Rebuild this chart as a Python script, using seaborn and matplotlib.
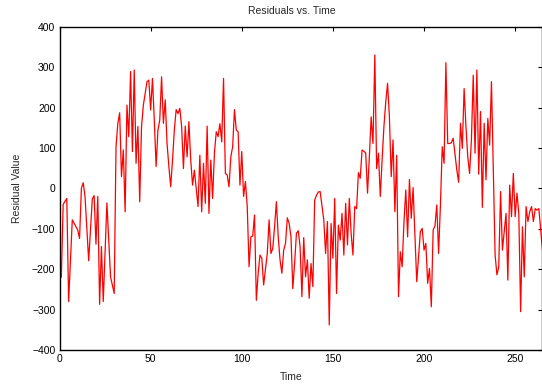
import numpy as np
import pandas as pd
import matplotlib
matplotlib.use('Agg')
import matplotlib.pyplot as plt
import seaborn as sns

# residuals (time index, residual value)
time = [1, 2, 3, 4, 5, 7, 9, 10, 11, 12, 13, 14, 16, 18, 19, 20, 21, 22, 23, 24,
        26, 28, 30, 31, 32, 33, 34, 35, 36, 37, 38, 39, 40, 41, 42, 43, 44, 45, 46, 48,
        49, 50, 51, 52, 53, 54, 55, 56, 57, 58, 59, 60, 61, 62, 63, 64, 65, 66, 67, 68,
        69, 70, 71, 72, 73, 74, 76, 77, 78, 79, 80, 81, 82, 83, 84, 85, 86, 87, 88, 89,
        90, 91, 92, 93, 94, 95, 96, 97, 98, 99, 100, 101, 102, 103, 104, 105, 106, 107, 108, 109,
        110, 111, 112, 114, 115, 116, 117, 118, 119, 120, 121, 122, 123, 124, 125, 126, 127, 128, 129, 130,
        131, 132, 133, 134, 135, 136, 137, 138, 139, 140, 141, 142, 143, 145, 146, 147, 148, 149, 150, 151,
        152, 153, 154, 155, 156, 157, 158, 159, 160, 161, 162, 163, 164, 165, 166, 168, 169, 170, 171, 172,
        173, 174, 175, 176, 177, 178, 179, 180, 181, 182, 183, 184, 185, 186, 187, 188, 189, 190, 191, 192,
        193, 194, 196, 197, 198, 199, 200, 201, 202, 203, 204, 205, 206, 207, 208, 209, 210, 211, 212, 213,
        214, 215, 216, 218, 219, 220, 221, 222, 223, 224, 225, 226, 227, 228, 229, 230, 231, 232, 233, 234,
        235, 236, 237, 238, 239, 240, 241, 242, 243, 245, 246, 247, 248, 249, 250, 251, 252, 253, 254, 255,
        256, 257, 258, 259, 260, 261, 262, 263, 265]
resid = [-220, -40, -32, -25, -280, -78, -95, -103, -124, 0, 14, -20, -179, -26, -18, -138, -20, -287, -144, -280,
         -36, -219, -260, 103, 161, 187, 29, 95, -58, 206, 128, 289, 91, 293, 62, 153, -33, 153, 206, 264,
         268, 194, 272, 169, 54, 144, 169, 276, 161, 219, 111, 54, 4, 70, 144, 195, 185, 198, 153, 49,
         154, 78, 165, 70, 8, 45, -45, 82, -58, 62, -37, 154, -62, 70, -25, 87, 140, 128, 160, 115,
         272, 37, 33, 4, 78, 103, 195, 144, 140, 8, 91, -20, 17, -45, -194, -120, -118, -66, -277, -210,
         -165, -173, -239, -161, -78, -161, -149, -95, -33, -120, -177, -210, -153, -136, -73, -87, -120, -248, -185, -111,
         -105, -144, -268, -122, -219, -177, -272, -186, -243, -29, -17, -9, -8, -78, -161, -82, -338, -87, -173, -25,
         -260, -91, -128, -62, -165, -37, -140, -25, -111, -165, -45, -50, 39, 25, 95, 88, -12, 78, 177, 111,
         330, 49, 87, -20, 70, 153, 214, 260, 177, 29, 120, -58, 82, -268, -157, -194, -82, -4, -120, 22,
         -74, 2, -231, -169, -107, -99, -153, -136, -235, -198, -293, -103, -93, -41, -161, -41, 103, 62, 311, 111,
         111, 113, 124, 45, 15, 161, 99, 247, 153, 78, 37, 120, 280, 87, 293, 35, 190, -47, 161, 21,
         173, 107, 264, 45, -165, -214, -194, -8, -153, -62, -227, 8, -70, 37, -70, -12, -62, -305, -95, -219,
         -45, -82, -58, -45, -82, -50, -54, -50, -153]

x_ticks = [0, 50, 100, 150, 200, 250]
y_ticks = [-400, -300, -200, -100, 0, 100, 200, 300, 400]

df = pd.DataFrame({'Time': time, 'Residual': resid})

sns.set_style('white')
plt.rcParams['font.family'] = ['Liberation Sans', 'DejaVu Sans']
plt.rcParams['xtick.direction'] = 'in'
plt.rcParams['ytick.direction'] = 'in'

fig = plt.figure(figsize=(5.42, 3.85), dpi=100)
ax = fig.add_axes([0.1098, 0.0909, 0.8911, 0.8397])

sns.lineplot(data=df, x='Time', y='Residual', color='red', linewidth=0.9, ax=ax)

ax.set_xlim(0, 265)
ax.set_ylim(-400, 400)
ax.set_xticks(x_ticks)
ax.set_yticks(y_ticks)
ax.tick_params(axis='both', which='major', labelsize=7.5, length=3.2, width=0.8,
               color='black', labelcolor='black', top=True, right=True, pad=3)
for sp in ax.spines.values():
    sp.set_visible(True)
    sp.set_color('black')
    sp.set_linewidth(1.0)

ax.set_xlabel('Time', fontsize=7.5, va='center')
ax.xaxis.set_label_coords(0.48, -0.083)
ax.set_ylabel('Residual Value', fontsize=7.5, va='center')
ax.yaxis.set_label_coords(-0.087, 0.501)
ax.set_title('Residuals vs. Time', fontsize=7.5, x=0.48, y=1.0495, va='center', pad=0)

fig.savefig('out.png', dpi=100)
